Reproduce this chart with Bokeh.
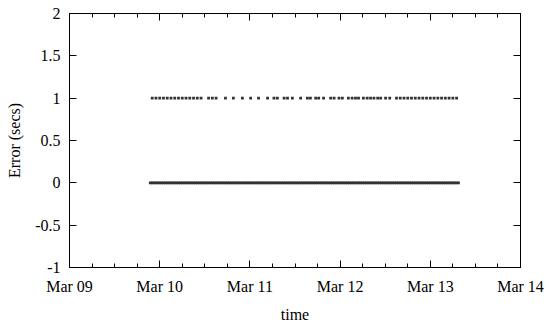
import pandas as pd
from bokeh.plotting import figure
from bokeh.models import Range1d, FixedTicker, DatetimeTickFormatter, DatetimeAxis, LinearAxis
from bokeh.embed import file_html
from bokeh.resources import INLINE

# ---- data (hours after Mar 09 00:00) ----
base_date = "2009-03-09"
x_tick_dates = ["2009-03-09", "2009-03-10", "2009-03-11", "2009-03-12", "2009-03-13", "2009-03-14"]
y_ticks = [-1, -0.5, 0, 0.5, 1, 1.5, 2]
y_tick_labels = ["-1", "-0.5", "0", "0.5", "1", "1.5", "2"]

err1_hours = [22, 23, 24, 25, 26, 27, 28, 29, 30, 31, 32, 33, 34, 35,
              37, 38, 39,
              41.5, 43.6, 46.0, 48.2, 50.3, 52.7,
              54.4, 55.3, 57.1, 58.0, 59.3, 61.5, 63.3, 64.1, 65.5, 66.3, 67.6,
              69.5, 70.4, 71.7, 72.6,
              74.2, 75.2, 76.1, 76.9,
              78.2, 79.2, 80.1, 81.0, 82.0, 82.8,
              84.1, 85.2,
              87, 88, 89, 90, 91, 92, 93, 94, 95, 96, 97, 98, 99, 100, 101, 102, 103]

err0_hours = [21.5, 22.0, 22.5, 23.0, 23.5, 24.0, 24.5, 25.0, 25.5, 26.0,
              26.5, 27.0, 27.5, 28.0, 28.5, 29.0, 29.5, 30.0, 30.5, 31.0,
              31.5, 32.0, 32.5, 33.0, 33.5, 34.0, 34.5, 35.0, 35.5, 36.0,
              36.5, 37.0, 37.5, 38.0, 38.5, 39.0, 39.5, 40.0, 40.5, 41.0,
              41.5, 42.0, 42.5, 43.0, 43.5, 44.0, 44.5, 45.0, 45.5, 46.0,
              46.5, 47.0, 47.5, 48.0, 48.5, 49.0, 49.5, 50.0, 50.5, 51.0,
              51.5, 52.0, 52.5, 53.0, 53.5, 54.0, 54.5, 55.0, 55.5, 56.0,
              56.5, 57.0, 57.5, 58.0, 58.5, 59.0, 59.5, 60.0, 60.5, 61.0,
              61.5, 62.0, 62.5, 63.0, 63.5, 64.0, 64.5, 65.0, 65.5, 66.0,
              66.5, 67.0, 67.5, 68.0, 68.5, 69.0, 69.5, 70.0, 70.5, 71.0,
              71.5, 72.0, 72.5, 73.0, 73.5, 74.0, 74.5, 75.0, 75.5, 76.0,
              76.5, 77.0, 77.5, 78.0, 78.5, 79.0, 79.5, 80.0, 80.5, 81.0,
              81.5, 82.0, 82.5, 83.0, 83.5, 84.0, 84.5, 85.0, 85.5, 86.0,
              86.5, 87.0, 87.5, 88.0, 88.5, 89.0, 89.5, 90.0, 90.5, 91.0,
              91.5, 92.0, 92.5, 93.0, 93.5, 94.0, 94.5, 95.0, 95.5, 96.0,
              96.5, 97.0, 97.5, 98.0, 98.5, 99.0, 99.5, 100.0, 100.5, 101.0,
              101.5, 102.0, 102.5, 103.0, 103.5]

err1_values = [1] * len(err1_hours)
err0_values = [0] * len(err0_hours)

# ---- helpers ----
base = pd.Timestamp(base_date)


def to_dt(hours):
    return [base + pd.Timedelta(hours=h) for h in hours]


def ms(ts):
    return pd.Timestamp(ts).value // 10**6


major_x = [ms(d) for d in x_tick_dates]
minor_x = [ms(pd.Timestamp(d) + pd.Timedelta(hours=h)) for d in x_tick_dates[:-1] for h in (6, 12, 18)]

FONT = "Liberation Serif"
FS = "16px"

p = figure(width=550, height=325, x_axis_type="datetime",
           output_backend="svg", toolbar_location=None,
           x_range=Range1d(pd.Timestamp(x_tick_dates[0]), pd.Timestamp(x_tick_dates[-1])),
           y_range=Range1d(y_ticks[0], y_ticks[-1]),
           min_border_left=69, min_border_right=30, min_border_top=13, min_border_bottom=58)
p.background_fill_color = "white"
p.border_fill_color = "white"
p.outline_line_color = "black"
p.outline_line_width = 1
p.outline_line_alpha = 1
p.xgrid.visible = False
p.ygrid.visible = False

fmt = DatetimeTickFormatter(days="%b %d", months="%b %d", hours="%b %d", years="%b %d")
xt = FixedTicker(ticks=major_x, minor_ticks=minor_x)
yt = FixedTicker(ticks=y_ticks, minor_ticks=[])
overrides = {float(v): s for v, s in zip(y_ticks, y_tick_labels)}


def style_axis(ax):
    ax.axis_line_color = "black"
    ax.major_tick_line_color = "black"
    ax.minor_tick_line_color = "black"
    ax.major_tick_in = 7
    ax.major_tick_out = 0
    ax.minor_tick_in = 4
    ax.minor_tick_out = 0
    ax.major_label_text_font = FONT
    ax.major_label_text_font_size = FS
    ax.major_label_text_color = "black"
    ax.axis_label_text_font = FONT
    ax.axis_label_text_font_size = FS
    ax.axis_label_text_font_style = "normal"
    ax.axis_label_text_color = "black"


xa = p.xaxis[0]
xa.ticker = xt
xa.formatter = fmt
xa.axis_label = "time"
style_axis(xa)
xa.major_label_standoff = 10
xa.axis_label_standoff = 8

ya = p.yaxis[0]
ya.ticker = yt
ya.major_label_overrides = overrides
ya.axis_label = "Error (secs)"
style_axis(ya)
ya.major_label_standoff = 9
ya.axis_label_standoff = 9

# mirrored tick marks (no labels) on top and right
top = DatetimeAxis(ticker=FixedTicker(ticks=major_x, minor_ticks=minor_x), formatter=fmt)
style_axis(top)
top.major_label_overrides = {int(t): "" for t in major_x}
top.major_label_standoff = 0
p.add_layout(top, "above")

right = LinearAxis(ticker=FixedTicker(ticks=y_ticks, minor_ticks=[]))
style_axis(right)
right.major_label_overrides = {float(v): "" for v in y_ticks}
right.major_label_standoff = 0
p.add_layout(right, "right")

p.scatter(to_dt(err0_hours), err0_values, marker="square", size=2.8,
          fill_color="#333333", line_color=None)
p.scatter(to_dt(err1_hours), err1_values, marker="square", size=2.8,
          fill_color="#333333", line_color=None)

open("out.html", "w").write(file_html(p, INLINE))
